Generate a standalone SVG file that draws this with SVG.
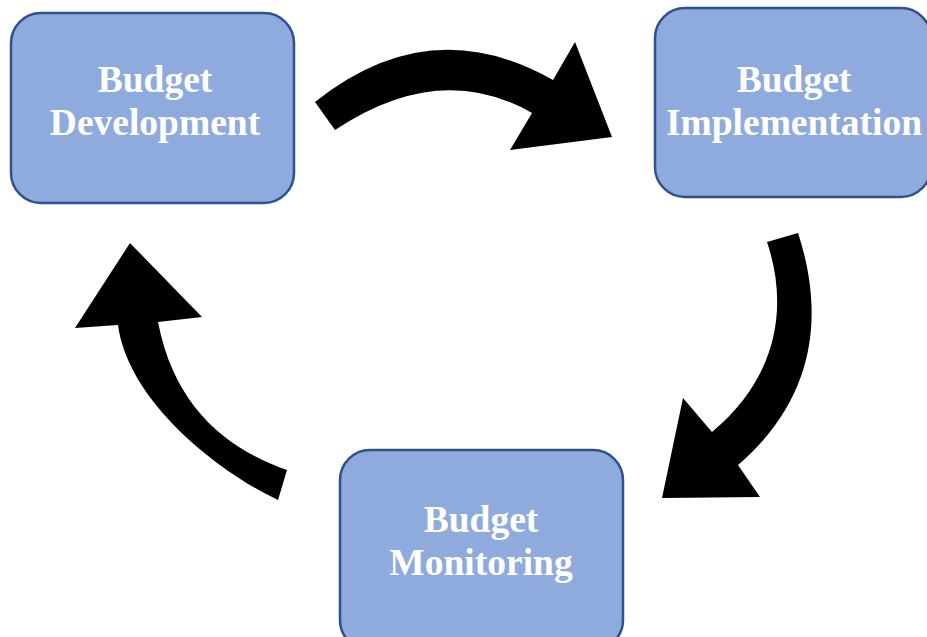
<svg xmlns="http://www.w3.org/2000/svg" width="927" height="637" viewBox="0 0 927 637">
<style>
.box{fill:#8FAADC;stroke:#2F528F;stroke-width:2.5}
.lbl{font-family:"Liberation Serif","Times New Roman",serif;font-weight:bold;font-size:37.5px;fill:#FFFFFF;text-anchor:middle}
.arr{fill:#000000}
</style>
<rect width="927" height="637" fill="#FFFFFF"/>
<g id="connectors">
<path class="arr" d="M315,102 Q430,10 553,80 L575,42 L612,137 L510,150 L532,113 Q440,60 335,130 Z"/>
<path class="arr" d="M798,233 C820,300 825,390 738,465 L760,497 L662,498 L683,398 L712,432 C775,380 790,310 767,242 Z"/>
<path class="arr" d="M287,470 C230,450 175,410 158,322 L202,317 L130,243 L75,328 L118,325 C128,400 215,470 278,500 Z"/>
</g>
<g id="budget-development">
<rect class="box" x="11" y="13" width="283" height="190" rx="30"/>
<text class="lbl" x="155" y="92">Budget</text>
<text class="lbl" x="155" y="135">Development</text>
</g>
<g id="budget-implementation">
<rect class="box" x="655" y="8" width="276" height="189" rx="30"/>
<text class="lbl" x="794" y="92">Budget</text>
<text class="lbl" x="794" y="135">Implementation</text>
</g>
<g id="budget-monitoring">
<rect class="box" x="340" y="450" width="283" height="200" rx="30"/>
<text class="lbl" x="481" y="532">Budget</text>
<text class="lbl" x="481" y="575">Monitoring</text>
</g>
</svg>
